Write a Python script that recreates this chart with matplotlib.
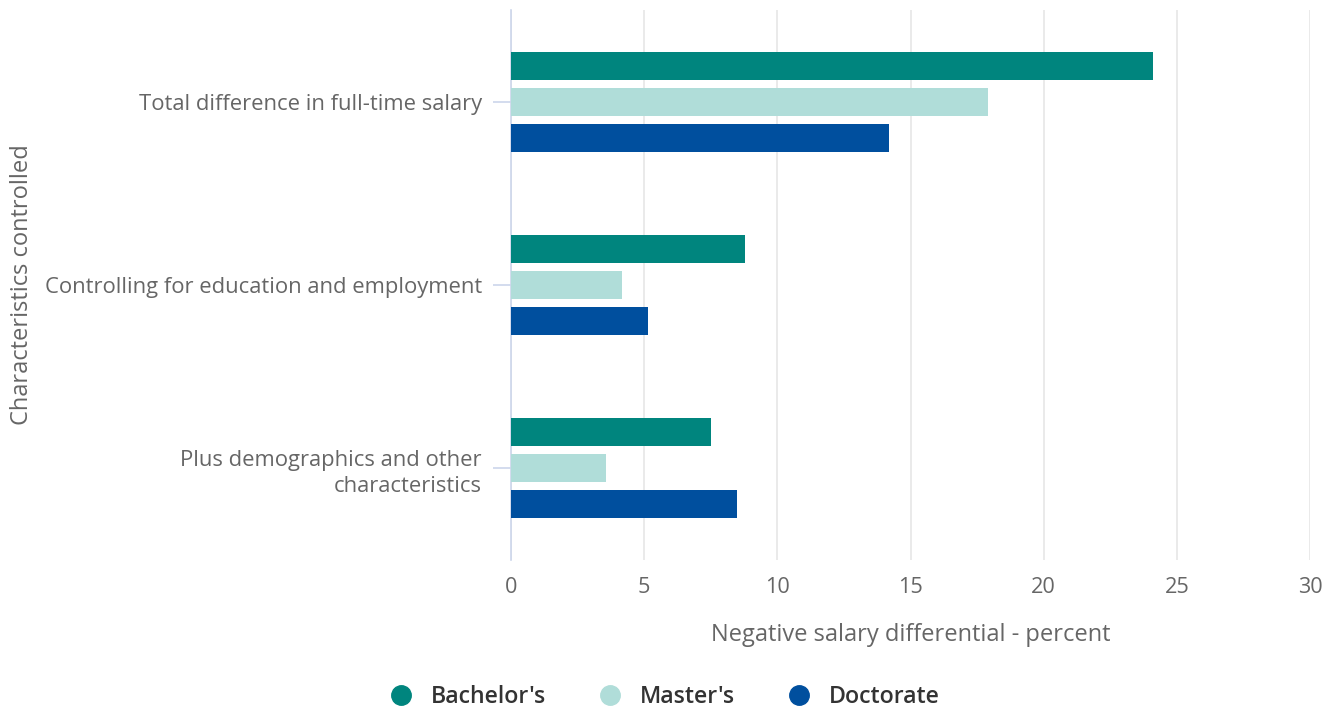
import matplotlib
matplotlib.use("Agg")
import matplotlib.pyplot as plt
from matplotlib.lines import Line2D
import numpy as np

plt.rcParams['font.family'] = ['Open Sans', 'DejaVu Sans']

categories = ["Total difference in full-time salary",
              "Controlling for education and employment",
              "Plus demographics and other\ncharacteristics"]
series_names = ["Bachelor's", "Master's", "Doctorate"]
bachelors = [24.1, 8.8, 7.5]
masters = [17.9, 4.15, 3.55]
doctorate = [14.2, 5.15, 8.5]
colors = ["#00857e", "#b0ddd9", "#004f9e"]
xticks = [0, 5, 10, 15, 20, 25, 30]

fig = plt.figure(figsize=(13.33, 7.12), dpi=100)
ax = fig.add_axes([511/1333, 1-560/712, (1310-511)/1333, 550/712])

y = np.arange(len(categories))
offsets = [-0.197, 0.0, 0.197]
h = 0.153
for vals, off, c, name in zip([bachelors, masters, doctorate], offsets, colors, series_names):
    ax.barh(y + off, vals, height=h, color=c, label=name, zorder=3)

ax.set_xlim(0, 30)
ax.set_ylim(2.5, -0.5)
ax.set_xticks(xticks)
ax.set_xticklabels([str(t) for t in xticks])
ax.set_yticks(y)
ax.set_yticklabels(categories, linespacing=1.35)
ax.grid(axis='x', color='#e6e6e6', linewidth=1.2, zorder=0)
for s in ['top', 'right', 'bottom']:
    ax.spines[s].set_visible(False)
ax.spines['left'].set_color('#ccd6eb')
ax.spines['left'].set_linewidth(1.2)
ax.tick_params(axis='x', length=0, pad=12, labelsize=15.6, labelcolor='#666666')
ax.tick_params(axis='y', length=13, width=1.2, color='#ccd6eb', pad=8,
               labelsize=15.8, labelcolor='#666666')
ax.set_xlabel("Negative salary differential - percent", fontsize=17, color='#666666', labelpad=18)
fig.text(22/1333, 1-285/712, "Characteristics controlled", rotation=90, fontsize=17,
         color='#666666', ha='center', va='center')

handles = [Line2D([0], [0], marker='o', linestyle='none', markersize=14,
                  markerfacecolor=c, markeredgecolor=c) for c in colors]
fig.legend(handles, series_names, loc='center', bbox_to_anchor=(659/1333, 1-697/712),
           ncol=3, frameon=False, handletextpad=0.3, columnspacing=1.75,
           prop={'size': 16.7, 'weight': 'semibold'}, labelcolor='#333333')

fig.savefig("out.png", dpi=100)
